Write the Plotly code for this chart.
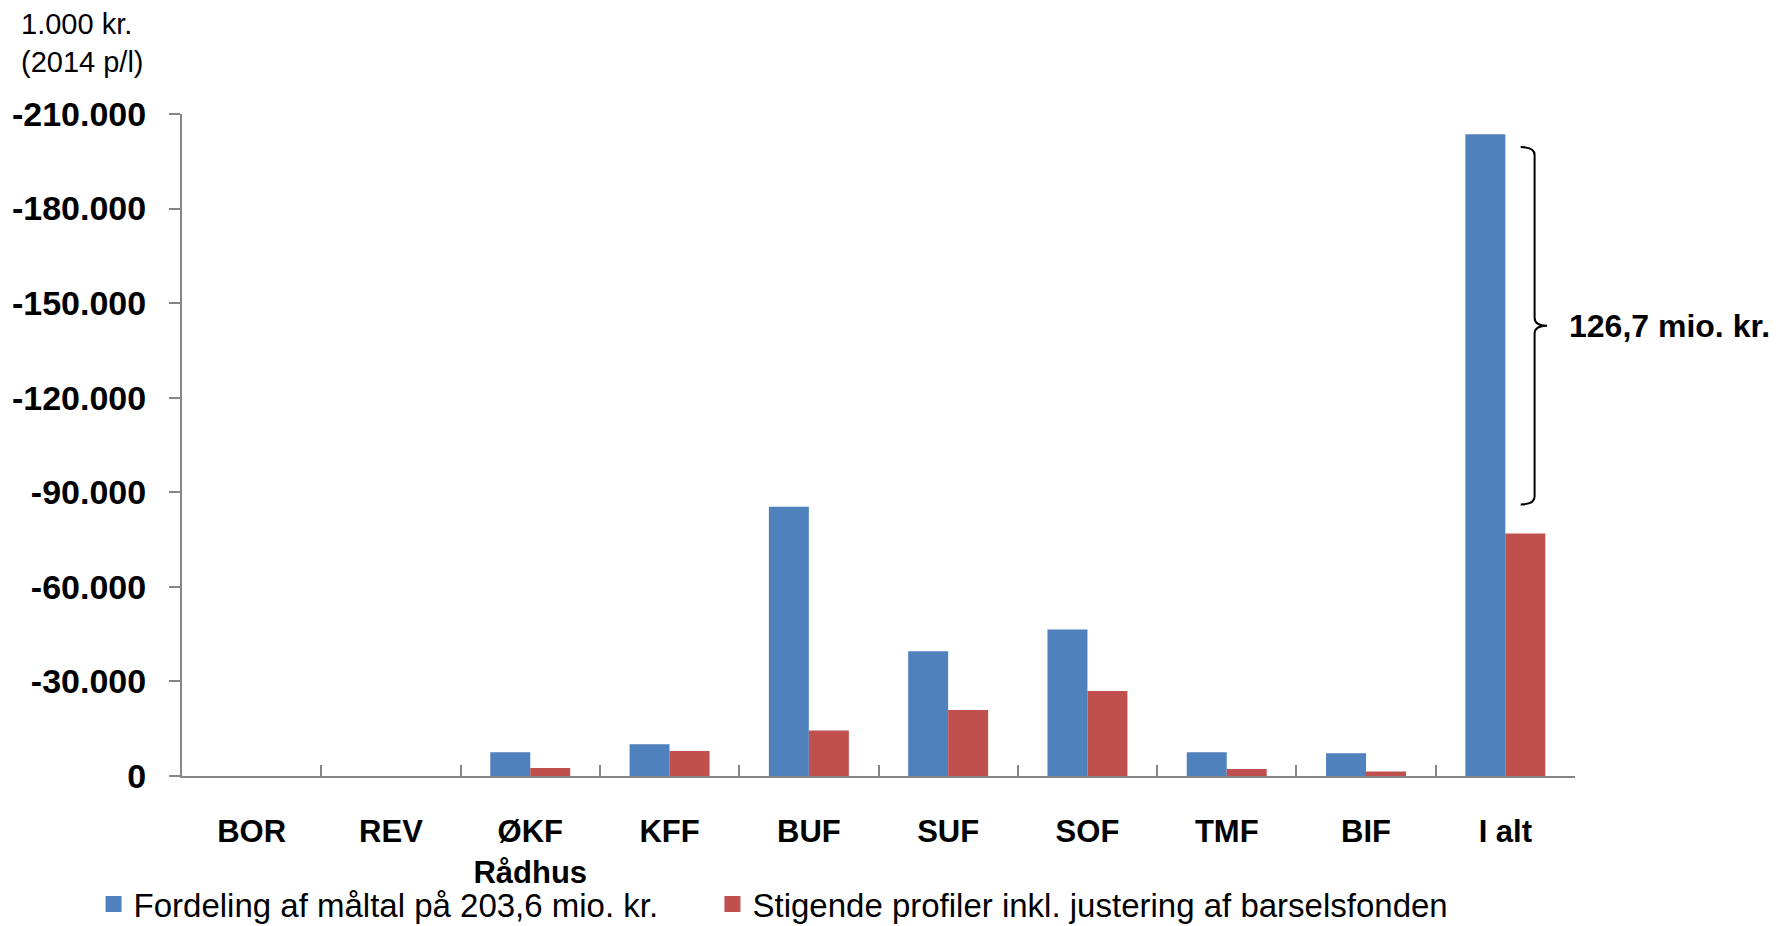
import plotly.graph_objects as go

categories = ["BOR", "REV", "ØKF<br>Rådhus", "KFF", "BUF", "SUF", "SOF", "TMF", "BIF", "I alt"]
blue_name = "Fordeling af måltal på 203,6 mio. kr."
red_name = "Stigende profiler inkl. justering af barselsfonden"
blue_vals = [0, 0, -7500, -10100, -85400, -39600, -46500, -7500, -7200, -203600]
red_vals = [0, 0, -2500, -7900, -14400, -20900, -27000, -2200, -1400, -76900]
y_tickvals = [0, -30000, -60000, -90000, -120000, -150000, -180000, -210000]
y_ticktext = ["0", "-30.000", "-60.000", "-90.000", "-120.000", "-150.000", "-180.000", "-210.000"]
diff_label = "126,7 mio. kr."
unit_label = "1.000 kr.<br>(2014 p/l)"

BLUE = "#4F81BD"
RED = "#C0504D"
AXIS = "#868686"
FONT = "Liberation Sans"

fig = go.Figure()
fig.add_trace(go.Bar(x=categories, y=blue_vals, name=blue_name, showlegend=False,
                     marker=dict(color=BLUE, line=dict(width=0))))
fig.add_trace(go.Bar(x=categories, y=red_vals, name=red_name, showlegend=False,
                     marker=dict(color=RED, line=dict(width=0))))
# legend entries with larger square keys
fig.add_trace(go.Scatter(x=[None], y=[None], mode="markers", name=blue_name, legend="legend",
                         marker=dict(symbol="square", size=18, color=BLUE)))
fig.add_trace(go.Scatter(x=[None], y=[None], mode="markers", name=red_name, legend="legend2",
                         marker=dict(symbol="square", size=18, color=RED)))

# curly brace between the two "I alt" bars
last = len(categories) - 1
top = blue_vals[-1] * 0.98
bot = red_vals[-1] * 1.12
mid = (top + bot) / 2
r = 2500
xl, xv, xt = last + 0.11, last + 0.21, last + 0.30
path = (f"M {xl},{top} Q {xv},{top} {xv},{top + r} "
        f"L {xv},{mid - r} Q {xv},{mid} {xt},{mid} "
        f"Q {xv},{mid} {xv},{mid + r} "
        f"L {xv},{bot - r} Q {xv},{bot} {xl},{bot}")
fig.add_shape(type="path", path=path, xref="x", yref="y", line=dict(color="black", width=2))

fig.add_annotation(x=last + 0.44, y=mid, xref="x", yref="y", text=diff_label, showarrow=False,
                   xanchor="left", yanchor="middle", font=dict(family=FONT, size=32, color="black", weight="bold"))
fig.add_annotation(x=-0.117, y=1.163, xref="paper", yref="paper", text=unit_label, showarrow=False,
                   xanchor="left", yanchor="top", align="left", font=dict(family=FONT, size=29, color="black"))

legend_style = dict(orientation="h", xanchor="left", y=-0.1934, yanchor="middle",
                    font=dict(family=FONT, size=33, color="black"), bgcolor="rgba(0,0,0,0)")

fig.update_layout(
    width=1781, height=926,
    margin=dict(l=174, r=214, t=106, b=158, autoexpand=False),
    paper_bgcolor="white", plot_bgcolor="white",
    barmode="group", bargap=0.426, bargroupgap=0,
    font=dict(family=FONT, color="black"),
    showlegend=True,
    legend=dict(x=-0.0635, **legend_style),
    legend2=dict(x=0.3808, **legend_style),
    xaxis=dict(type="category", categoryorder="array", categoryarray=categories,
               range=[-0.5, len(categories) - 0.5],
               showline=True, linecolor=AXIS, linewidth=2, ticks="inside", tickson="boundaries",
               ticklen=11, tickwidth=2, tickcolor=AXIS, showgrid=False, zeroline=False, automargin=False,
               tickfont=dict(family=FONT, size=31, color="black", weight="bold"), ticklabelstandoff=27),
    yaxis=dict(range=[0, -210000], autorange=False, tickmode="array", tickvals=y_tickvals, ticktext=y_ticktext,
               showline=True, linecolor=AXIS, linewidth=2, ticks="outside", ticklen=11, tickwidth=2,
               tickcolor=AXIS, showgrid=False, zeroline=False, automargin=False,
               tickfont=dict(family=FONT, size=34, color="black", weight="bold"), ticklabelstandoff=16),
)

fig.write_html("out.html")
